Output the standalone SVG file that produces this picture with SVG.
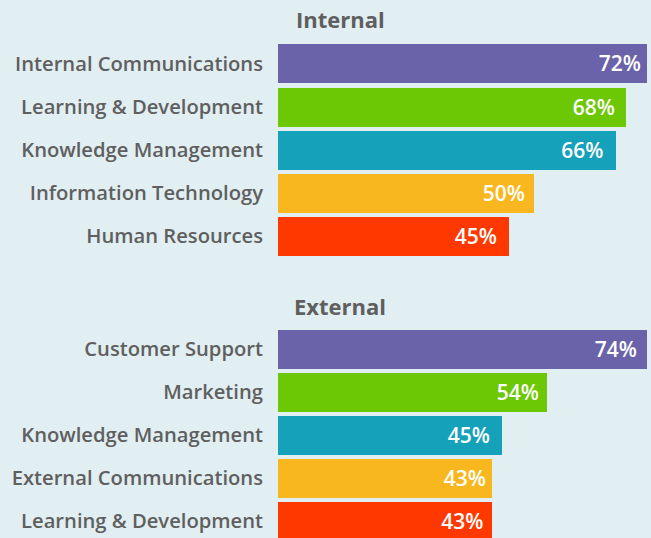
<svg xmlns="http://www.w3.org/2000/svg" width="651" height="538" viewBox="0 0 651 538">
<style>
.lbl{font-family:"Open Sans","Liberation Sans",sans-serif;font-weight:600;font-size:20.2px;fill:#5f5f5f;text-anchor:end}
.val{font-family:"Open Sans","Liberation Sans",sans-serif;font-weight:600;font-size:21px;fill:#ffffff;text-anchor:end}
.hdr{font-family:"Open Sans","Liberation Sans",sans-serif;font-weight:700;font-size:22px;fill:#5f5f5f}
.c1{fill:#6a63aa}.c2{fill:#6cc704}.c3{fill:#16a1bb}.c4{fill:#f8b71e}.c5{fill:#ff3800}
</style>
<rect width="651" height="538" fill="#e1eef2"/>
<g id="internal">
<text class="hdr" x="296" y="28">Internal</text>
<g id="int-1"><rect class="c1" x="278" y="44" width="369" height="39"/><text class="lbl" x="263" y="70.5">Internal Communications</text><text class="val" x="641" y="70.5">72%</text></g>
<g id="int-2"><rect class="c2" x="278" y="88" width="348" height="39"/><text class="lbl" x="263" y="114">Learning &amp; Development</text><text class="val" x="615" y="114.5">68%</text></g>
<g id="int-3"><rect class="c3" x="278" y="131" width="338" height="39"/><text class="lbl" x="263" y="157">Knowledge Management</text><text class="val" x="603.5" y="157.5">66%</text></g>
<g id="int-4"><rect class="c4" x="278" y="174" width="256" height="39"/><text class="lbl" x="263" y="200">Information Technology</text><text class="val" x="525" y="200.5">50%</text></g>
<g id="int-5"><rect class="c5" x="278" y="217" width="231" height="39"/><text class="lbl" x="263" y="243">Human Resources</text><text class="val" x="497" y="243.5">45%</text></g>
</g>
<g id="external">
<text class="hdr" x="294" y="315">External</text>
<g id="ext-1"><rect class="c1" x="278" y="330" width="369" height="39"/><text class="lbl" x="263" y="356">Customer Support</text><text class="val" x="637" y="356.5">74%</text></g>
<g id="ext-2"><rect class="c2" x="278" y="373" width="269" height="39"/><text class="lbl" x="263" y="399">Marketing</text><text class="val" x="539" y="399.5">54%</text></g>
<g id="ext-3"><rect class="c3" x="278" y="416" width="224" height="39"/><text class="lbl" x="263" y="442">Knowledge Management</text><text class="val" x="490" y="442.5">45%</text></g>
<g id="ext-4"><rect class="c4" x="278" y="459" width="214" height="39"/><text class="lbl" x="263" y="485">External Communications</text><text class="val" x="486" y="485.5">43%</text></g>
<g id="ext-5"><rect class="c5" x="278" y="502" width="214" height="39"/><text class="lbl" x="263" y="528">Learning &amp; Development</text><text class="val" x="483.5" y="528.5">43%</text></g>
</g>
</svg>
